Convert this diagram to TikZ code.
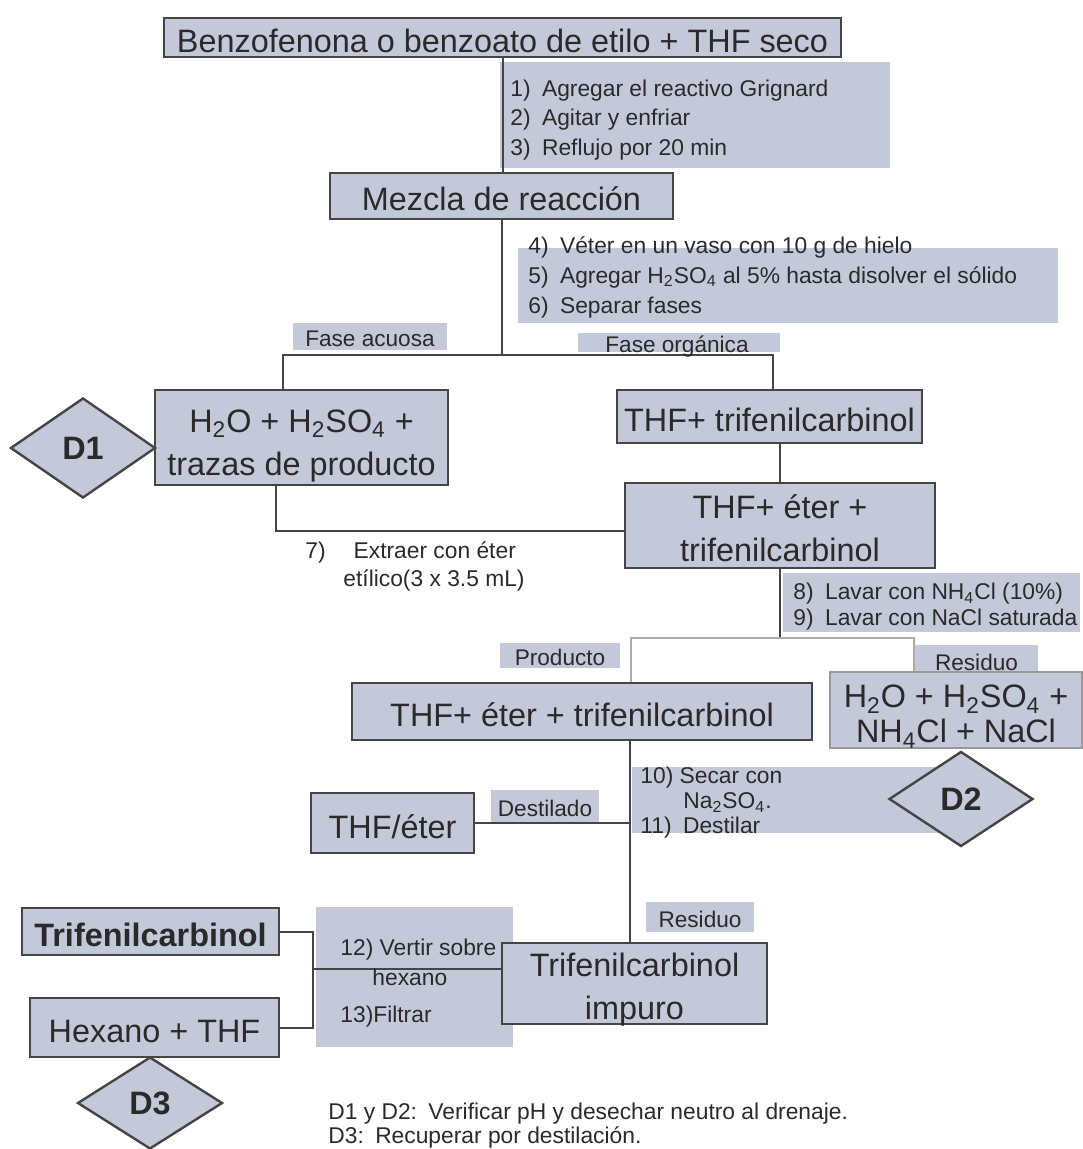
\documentclass[tikz,border=0pt]{standalone}
\usepackage{fontspec}
\setmainfont{Liberation Sans}
\usetikzlibrary{shapes.geometric}
\definecolor{relleno}{HTML}{C4C9DA}
\definecolor{borde}{HTML}{454545}
\definecolor{texto}{HTML}{2A2A2A}
\newcommand\tcaja{\fontsize{16.2}{21.5}\selectfont}
\newcommand\tpaso{\fontsize{11.4}{14.75}\selectfont}
\newcommand\tetiq{\fontsize{11.3}{13}\selectfont}

\begin{document}
\begin{tikzpicture}[x=0.5pt,y=-0.5pt,
  caja/.style={draw=borde,line width=1.4pt,fill=relleno,text=texto,font=\tcaja,align=center,inner sep=0pt},
  uno/.style={text height=15pt,text depth=0pt},
  fondo/.style={fill=relleno,inner sep=0pt},
  etiq/.style={fill=relleno,text=texto,font=\tetiq,inner sep=0pt,text height=10pt,text depth=0pt},
  paso/.style={text=texto,font=\tpaso,align=left,anchor=west,inner sep=0pt},
  rombo/.style={diamond,draw=borde,line width=1.2pt,fill=relleno,text=texto,font=\tcaja\bfseries,inner sep=0pt},
  linea/.style={draw=borde,line width=1pt}]
        \useasboundingbox (0,0) rectangle (1082,1149);
        % fondos de los pasos
        \node[fondo,minimum width=195pt,minimum height=53pt] (f1) at (695,115) {};
        \node[fondo,minimum width=270pt,minimum height=37.5pt] (f2) at (788,285.5) {};
        \node[fondo,minimum width=148.5pt,minimum height=29.5pt] (f3) at (931.5,602.5) {};
        \node[fondo,minimum width=164pt,minimum height=33pt] (f4) at (796,800) {};
        \node[fondo,minimum width=98.5pt,minimum height=70pt] (f5) at (414.5,977) {};
        \node[fondo,minimum width=101pt,minimum height=9.5pt] (forg) at (679,342.5) {};
        % etiquetas
        \node[etiq,minimum width=77pt,minimum height=13.5pt] (acu) at (370,336.5) {Fase acuosa};
        \node[etiq,minimum width=60pt,minimum height=12.5pt] (lprod) at (560,655.5) {Producto};
        \node[etiq,minimum width=61.5pt,minimum height=15pt] (lres1) at (976.5,660) {Residuo};
        \node[etiq,minimum width=54pt,minimum height=16pt] (ldest) at (545,806) {Destilado};
        \node[etiq,minimum width=54pt,minimum height=15pt] (lres2) at (700,917) {Residuo};
        % cajas
        \node[caja,uno,minimum width=338.5pt,minimum height=19.5pt] (titulo) at (502.5,37.5) {Benzofenona o benzoato de etilo + THF seco};
        \node[caja,uno,minimum width=171.5pt,minimum height=23pt] (mezcla) at (501.5,196) {Mezcla de reacción};
        \node[caja,minimum width=146.5pt,minimum height=47.5pt] (acuosa) at (301.5,437.5) {\rule{0pt}{19.5pt}H\textsubscript{2}O + H\textsubscript{2}SO\textsubscript{4} +\\trazas de producto};
        \node[caja,uno,minimum width=152.5pt,minimum height=26.5pt] (org1) at (769.5,416.5) {THF+ trifenilcarbinol};
        \node[caja,minimum width=155pt,minimum height=42.5pt] (org2) at (780,525.5) {\rule{0pt}{15pt}THF+ éter +\\trifenilcarbinol};
        \node[caja,uno,minimum width=230pt,minimum height=28.5pt] (prod) at (582,711.5) {THF+ éter + trifenilcarbinol};
        \node[caja,draw=borde!55,font=\fontsize{16.2}{17.5}\selectfont,minimum width=126pt,minimum height=38pt] (res) at (956,710) {\rule{0pt}{18pt}H\textsubscript{2}O + H\textsubscript{2}SO\textsubscript{4} +\\NH\textsubscript{4}Cl + NaCl};
        \node[caja,uno,minimum width=81.5pt,minimum height=30pt] (thfeter) at (392.5,823) {THF/éter};
        \node[caja,minimum width=132.5pt,minimum height=40.5pt] (impuro) at (634.5,983.5) {\rule{0pt}{15pt}Trifenilcarbinol\\im\smash{p}uro};
        \node[caja,uno,font=\tcaja\bfseries,minimum width=128.5pt,minimum height=23.5pt] (trif) at (150.5,931.5) {Trifenilcarbinol};
        \node[caja,uno,minimum width=124.5pt,minimum height=29.5pt] (hex) at (154.5,1027.5) {Hexano + THF};
        \node[rombo,minimum width=72.5pt,minimum height=50pt] (d1) at (83,448) {D1};
        \node[rombo,minimum width=72pt,minimum height=47.5pt] (d2) at (961,799) {D2};
        \node[rombo,minimum width=72.5pt,minimum height=46pt] (d3) at (150,1103) {D3};
        % conectores
        \coordinate (sI) at (283,355);
        \coordinate (sD) at (773,355);
        \coordinate (c7) at (276,531);
        \coordinate (sP) at (631,638);
        \coordinate (sR) at (914,638);
        \coordinate (c10) at (630,823);
        \coordinate (c12) at (313,969);
        \draw[linea] (titulo.south) -- (titulo.south |- mezcla.north);
        \draw[linea] (mezcla.south) -- (mezcla.south |- sI);
        \draw[linea] (sI |- acuosa.north) -- (sI) -- (sD) -- (sD |- org1.north);
        \draw[linea] (org2.north) -- (org2.north |- org1.south);
        \draw[linea] (c7 |- acuosa.south) -- (c7) -- (c7 -| org2.west);
        \draw[linea] (org2.south) -- (org2.south |- sP);
        \draw[linea,draw=borde!45] (sP |- prod.north) -- (sP) -- (sR) -- (sR |- res.north);
        \draw[linea] (c10 |- prod.south) -- (c10 |- impuro.north);
        \draw[linea] (thfeter.east) -- (c10);
        \draw[linea] (c12 -| impuro.west) -- (c12);
        \draw[linea] (trif.east) -- (trif.east -| c12) -- (c12 |- hex.east) -- (hex.east);
        % textos de los pasos
        \node[text=texto,font=\tetiq] (torg) at (677,347) {Fase orgánica};
        \node[paso] (t1) at (510,120) {1)\enspace Agregar el reactivo Grignard\\2)\enspace Agitar y enfriar\\3)\enspace Reflujo por 20 min};
        \node[paso,font=\fontsize{11.4}{15}\selectfont] (t2) at (528,277) {4)\enspace Véter en un vaso con 10 g de hielo\\5)\enspace Agregar H\textsubscript{2}SO\textsubscript{4} al 5\% hasta disolver el sólido\\6)\enspace Separar fases};
        \node[paso,font=\fontsize{11.4}{14}\selectfont] (t7) at (305,566) {7)\hspace{14pt}Extraer con éter\\\hspace*{19pt}etílico(3 x 3.5 mL)};
        \node[paso,font=\fontsize{11.4}{13}\selectfont] (t3) at (793,607) {8)\enspace Lavar con NH\textsubscript{4}Cl (10\%)\\9)\enspace Lavar con NaCl saturada};
        \node[paso,font=\fontsize{11.4}{12.5}\selectfont] (t4) at (640,803) {10) Secar con\\\hspace*{21.5pt}Na\textsubscript{2}SO\textsubscript{4}.\\11)\enspace Destilar};
        \node[paso,font=\fontsize{11.4}{15}\selectfont] (t5) at (340,983) {12) Vertir sobre\\\hspace*{16pt}hexano\\[3.5pt]13)Filtrar};
        \node[paso,font=\fontsize{11.4}{12}\selectfont] (nota) at (328,1126) {D1 y D2:\enspace Verificar pH y desechar neutro al drenaje.\\D3:\enspace Recuperar por destilación.};
    \end{tikzpicture}
\end{document}
